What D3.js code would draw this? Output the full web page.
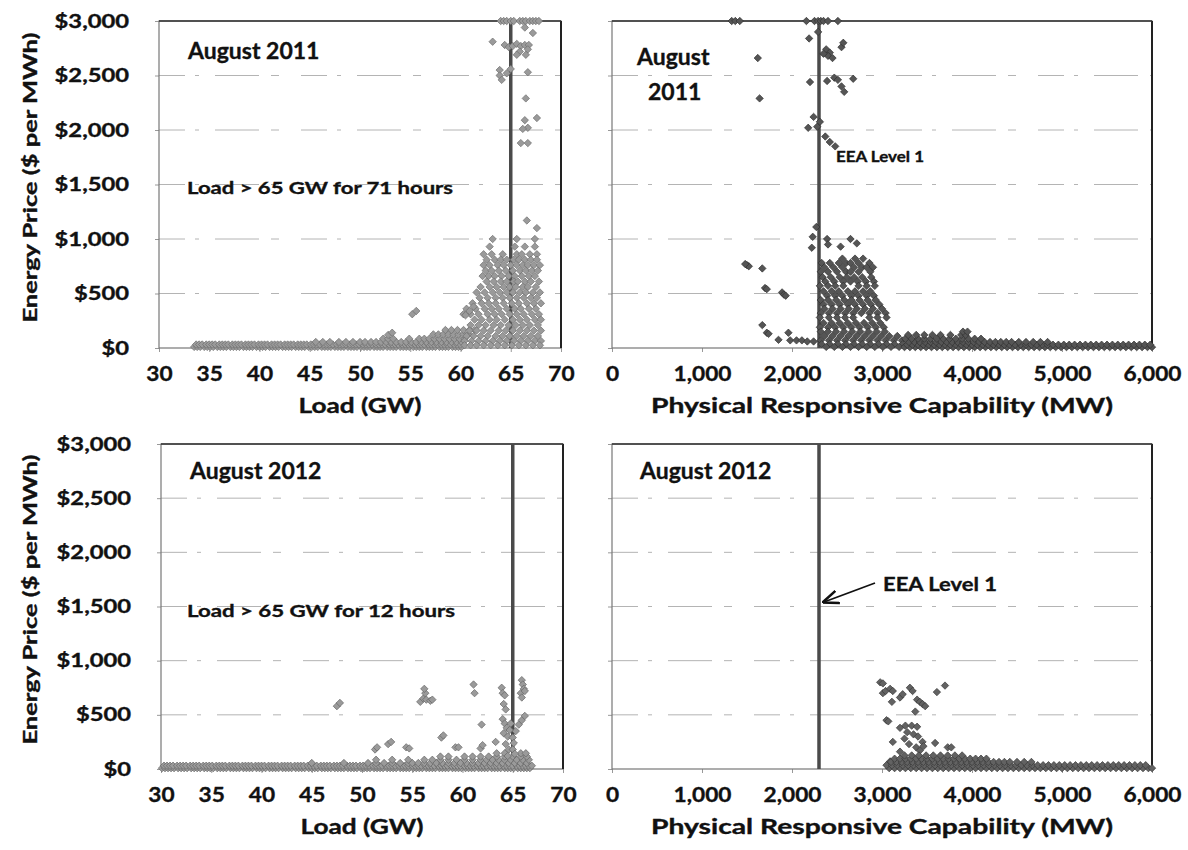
<!DOCTYPE html>
<html><head><meta charset="utf-8">
<script src="https://cdn.jsdelivr.net/npm/d3@7"></script>
<style>
body{margin:0;background:#fff;}
svg text{font-family:Lato,"Open Sans",sans-serif;font-weight:700;fill:#111;stroke:#111;stroke-width:0.35px;}
</style></head><body>
<svg id="chart" width="1188" height="850"></svg>
<script>
// ---- Axis ticks ----
const priceTicks = [0, 500, 1000, 1500, 2000, 2500, 3000];
const loadTicks = [30, 35, 40, 45, 50, 55, 60, 65, 70];
const prcTicks = [0, 1000, 2000, 3000, 4000, 5000, 6000];
const loadThreshold = 65;      // GW
const eeaLevel1 = 2300;        // MW

// ---- August 2011: hourly load (GW) vs energy price ($/MWh) ----
// dense bands are stored as rows: [price, [load, load, ...]]
const aug2011LoadBandRows = [
 [10,[33.5,33.8,34.1,34.5,34.8,35.1,35.4,35.8,36.1,36.4,36.7,37.1,37.4,37.7,38.0,38.4,38.7,39.0,39.3,39.7,40.0,40.3,40.6,41.0,41.3,41.6,41.9,42.3,42.6,42.9,43.2,43.6,43.9,44.2,44.5,44.9,45.2,45.5,45.8,46.2,46.5,46.8,47.1,47.5,47.8,48.1,48.4,48.8,49.1,49.4,49.7,50.1,50.4,50.7,51.0,51.4,51.7,52.0,52.3,52.7,53.0,53.3,53.6,54.0,54.3,54.6,54.9,55.3,55.6,55.9,56.2,56.6,56.9,57.2,57.5,57.9,58.2,58.5,58.8,59.2,59.5,59.8,60.1]],
 [32,[33.7,34.0,34.3,34.7,35.0,35.3,35.6,36.0,36.3,36.6,36.9,37.3,37.6,37.9,38.2,38.6,38.9,39.2,39.5,39.9,40.2,40.5,40.8,41.2,41.5,41.8,42.1,42.5,42.8,43.1,43.4,43.8,44.1,44.4,44.7,45.1,45.4,45.7,46.0,46.4,46.7,47.0,47.3,47.7,48.0,48.3,48.6,49.0,49.3,49.6,49.9,50.3,50.6,50.9,51.2,51.6,51.9,52.2,52.5,52.9,53.2,53.5,53.8,54.2,54.5,54.8,55.1,55.5,55.8,56.1,56.4,56.8,57.1,57.4,57.7,58.1,58.4,58.7,59.0,59.4,59.7,60.0]],
 [55,[45.6,46.3,47.0,47.9,48.6,49.3,50.0,50.5,51.1,51.6,52.1,52.6,53.1,53.6,54.1,54.6,55.1,55.6,56.1,56.6,57.1,57.6,58.1,58.6,59.1,59.6,60.1]],
 [85,[52.3,52.8,53.3,54.9,55.9,56.4,56.9,57.4,57.9,58.4,58.9,59.4,59.9,60.4]],
 [125,[57.3,57.8,58.3,58.8,59.3,59.8,60.3,60.8]],
 [165,[58.5,59.1,59.7,60.3,60.9,61.4]]
];
const aug2011LoadCloudRows = [
 [1000,[63.2,65.6,67.4]],
 [930,[62.9,65.4,66.4,67.4]],
 [860,[62.3,63.1,64.2,65.6,66.1,66.9,67.6]],
 [810,[62.6,63.4,64.0,64.6,65.3,65.8,66.4,67.0,67.6]],
 [760,[62.3,62.9,63.7,64.3,65.0,65.6,66.2,66.7,67.3,67.9]],
 [710,[62.5,63.1,63.8,64.5,65.2,65.9,66.5,67.1,67.7]],
 [660,[62.2,62.8,63.4,64.1,64.8,65.4,66.1,66.8,67.4]],
 [610,[62.6,63.3,64.0,64.6,65.3,65.7,66.4,67.0,67.8]],
 [560,[62.0,62.9,63.6,64.3,64.9,65.5,66.2,66.7,67.5]],
 [510,[61.6,62.4,63.2,63.9,64.6,65.2,65.9,66.5,67.2,67.9]],
 [460,[61.9,62.7,63.5,64.2,64.9,65.6,66.3,67.0,67.6]],
 [410,[61.2,62.1,62.8,63.5,64.3,65.1,65.8,66.6,67.3,68.0]],
 [360,[60.6,61.5,62.4,63.1,63.8,64.6,65.4,66.0,66.8,67.5]],
 [310,[60.3,61.0,61.8,62.7,63.4,64.1,64.9,65.6,66.3,67.1,67.8]],
 [260,[61.4,62.1,62.9,63.6,64.4,65.2,65.9,66.6,67.4,68.0]],
 [210,[61.0,61.8,62.5,63.3,64.0,64.8,65.5,66.2,66.9,67.7]],
 [160,[60.9,61.6,62.3,63.0,63.8,64.5,65.2,65.9,66.6,67.3,68.0]],
 [110,[60.6,61.3,62.0,62.7,63.5,64.2,64.9,65.6,66.3,67.0,67.7]],
 [65,[60.4,61.1,61.8,62.5,63.2,63.9,64.6,65.3,66.0,66.7,67.4,68.0]],
 [25,[60.4,61.0,61.6,62.3,63.0,63.7,64.4,65.1,65.8,66.5,67.2,67.9]]
];
const aug2011LoadScatter = [
 [52.8,120],[53.2,140],[55.2,310],[55.6,340],[60.5,300],[60.9,340],[61.3,380],
 [64.0,3000],[64.3,3000],[64.6,3000],[65.0,3000],[65.3,3000],[65.9,3000],[66.2,3000],[66.5,3000],[66.9,3000],[67.2,3000],[67.5,3000],[67.8,3000],
 [66.4,2940],[67.2,2890],[63.2,2810],
 [64.4,2780],[64.8,2760],[65.2,2770],[65.6,2790],[66.0,2770],[66.4,2780],[66.8,2780],[66.7,2740],[65.9,2720],[65.6,2690],[66.5,2690],
 [63.9,2550],[63.9,2500],[64.1,2460],[64.6,2520],[65.0,2560],[66.7,2530],
 [66.5,2290],[66.4,2090],[67.6,2110],[66.7,2020],[66.2,2010],[66.0,1880],[66.7,1880],
 [66.6,1170],[67.6,1100]
];

// ---- August 2011: physical responsive capability (MW) vs energy price ----
const aug2011PrcScatter = [
 [1330,3000],[1370,3000],[1420,3000],[2160,3000],[2250,3000],[2290,3000],[2320,3000],[2350,3000],[2400,3000],[2510,3000],
 [2290,2900],[2190,2840],[2380,2740],[2420,2710],[2400,2680],[2450,2660],[2350,2700],[2550,2760],[2570,2800],
 [1620,2660],[1640,2290],
 [2200,2440],[2390,2450],[2470,2480],[2550,2400],[2580,2350],[2510,2460],[2680,2470],
 [2240,2120],[2310,2075],[2370,1940],[2420,1890],[2480,1850],[2180,2020],[2280,2030],
 [2270,1110],[2230,1020],[2220,920],[2390,1000],[2400,950],[2650,1000],[2720,960],[2540,930],
 [1500,760],[1520,750],[1480,770],[1670,730],[1700,550],[1720,540],[1890,510],[1910,490],[1930,480],
 [1670,210],[1720,140],[1740,130],[1850,75],[1960,140],[1980,70],[2050,70],[2110,70],[2170,60],[2240,60]
];
const aug2011PrcCloudRows = [
 [820,[2560,2700,2790]],
 [780,[2330,2420,2520,2600,2650,2740,2860]],
 [740,[2360,2460,2560,2690,2780,2830,2900]],
 [700,[2320,2400,2500,2600,2650,2740,2870]],
 [650,[2340,2430,2530,2610,2690,2780,2880]],
 [610,[2370,2470,2570,2650,2730,2820,2910]],
 [570,[2310,2400,2480,2570,2740,2830,2920]],
 [520,[2350,2440,2520,2620,2700,2790,2870]],
 [480,[2390,2480,2560,2660,2740,2830,2910]],
 [440,[2320,2400,2490,2580,2660,2750,2840,2930]],
 [400,[2350,2440,2530,2620,2700,2790,2880,2970]],
 [360,[2360,2450,2540,2630,2720,2810,2900,3000]],
 [320,[2320,2410,2500,2590,2680,2770,2860,2950,3040]],
 [280,[2310,2410,2500,2590,2680,2860,2950,3050]],
 [230,[2350,2440,2530,2620,2710,2800,2890,2980]],
 [190,[2310,2400,2480,2570,2660,2750,2840,2930,3020]],
 [150,[2320,2400,2490,2580,2670,2760,2850,2940,3030]],
 [110,[2360,2450,2540,2630,2720,2810,2900,2990,3080,3170]],
 [70,[2320,2410,2500,2590,2680,2770,2860,2950,3040,3130,3220]],
 [35,[2330,2420,2510,2600,2690,2780,2870,2960,3050,3140,3230]],
 [10,[2380,2470,2560,2650,2740,2830,2920,3010,3100,3190]]
];
const aug2011PrcTailRows = [
 [8,[3250,3310,3370,3430,3490,3550,3610,3670,3730,3790,3850,3910,3970,4030,4090,4150,4210,4270,4330,4390,4450,4510,4570,4630,4690,4750,4810,4870,4930,4990,5050,5110,5170,5230,5290,5350,5410,5470,5530,5590,5650,5710,5770,5830,5890,5950,6000]],
 [30,[3280,3340,3400,3460,3520,3580,3640,3700,3760,3820,3880,3940,4000,4060,4120,4180,4240,4300,4360,4420,4480,4540,4600,4660,4720,4780,4840,4900,4960,5020,5080,5140,5200,5260,5320,5380,5440,5500,5560,5620,5680,5740,5800,5860,5920,5980]],
 [55,[3300,3360,3420,3480,3540,3600,3660,3720,3780,3840,3900,3960,4020,4080,4140,4200,4260,4320,4380,4440,4520,4600,4680,4760,4840]],
 [85,[3260,3330,3400,3470,3540,3610,3680,3750,3820,3890,3960,4030,4100]],
 [120,[3290,3380,3470,3560,3650,3760,3880,3930]],
 [150,[3900,3950]]
];

// ---- August 2012: hourly load (GW) vs energy price ----
const aug2012LoadBandRows = [
 [8,[30.1,30.4,30.7,31.0,31.3,31.7,32.0,32.3,32.6,33.0,33.3,33.6,33.9,34.3,34.6,34.9,35.2,35.6,35.9,36.2,36.5,36.9,37.2,37.5,37.8,38.2,38.5,38.8,39.1,39.5,39.8,40.1,40.4,40.8,41.1,41.4,41.7,42.1,42.4,42.7,43.0,43.4,43.7,44.0,44.3,44.7,45.0,45.3,45.6,46.0,46.3,46.6,46.9,47.3,47.6,47.9,48.2,48.6,48.9,49.2,49.5,49.9,50.2,50.5,50.8,51.2,51.5,51.8,52.1,52.5,52.8,53.1,53.4,53.8,54.1,54.4,54.7,55.1,55.4,55.7,56.0,56.4,56.7,57.0,57.3,57.7,58.0,58.3,58.6,59.0,59.3,59.6,59.9,60.3,60.6,60.9,61.2,61.6,61.9,62.2,62.5,62.9,63.2,63.5,63.8,64.2,64.5,64.8,65.1,65.5,65.8,66.1,66.4,66.7]],
 [30,[30.3,30.6,30.9,31.2,31.6,31.9,32.2,32.5,32.9,33.2,33.5,33.8,34.2,34.5,34.8,35.1,35.5,35.8,36.1,36.4,36.8,37.1,37.4,37.7,38.1,38.4,38.7,39.0,39.4,39.7,40.0,40.3,40.7,41.0,41.3,41.6,42.0,42.3,42.6,42.9,43.3,43.6,43.9,44.2,44.6,44.9,45.2,45.5,45.9,46.2,46.5,46.8,47.2,47.5,47.8,48.1,48.5,48.8,49.1,49.4,49.8,50.1,50.4,50.7,51.1,51.4,51.7,52.0,52.4,52.7,53.0,53.3,53.7,54.0,54.3,54.6,55.0,55.3,55.6,55.9,56.3,56.6,56.9,57.2,57.6,57.9,58.2,58.5,58.9,59.2,59.5,59.8,60.2,60.5,60.8,61.1,61.5,61.8,62.1,62.4,62.8,63.1,63.4,63.7,64.1,64.4,64.7,65.0,65.4,65.7,66.0,66.3,66.6,66.9]],
 [55,[45.0,48.2,50.6,51.4,52.2,53.0,53.8,54.6,55.0,55.6,56.2,56.8,57.4,58.0,58.6,59.2,59.8,60.4,61.0,61.6,62.2,62.8,63.4,64.0,64.6,65.2,65.8,66.4]],
 [85,[51.4,53.0,54.6,56.2,57.0,57.8,58.6,59.4,60.2,61.0,61.8,62.4,63.0,63.6,64.2,64.8,65.4,66.0,66.6]],
 [115,[57.8,58.6,60.2,61.0,61.8,62.6,63.4,64.2,65.0,65.8,66.4]],
 [145,[63.4,64.2,65.8,66.3]]
];
const aug2012LoadScatter = [
 [47.5,580],[47.8,610],[51.3,180],[51.5,200],[52.6,230],[52.9,250],[54.4,200],[54.7,190],
 [55.8,620],[56.1,650],[56.4,640],[56.8,630],[57.0,640],[56.3,700],[56.2,740],
 [57.9,290],[58.1,310],[59.3,200],[59.6,200],[61.1,780],[61.2,700],[61.9,410],[61.8,190],[62.0,220],[63.3,250],
 [63.9,750],[64.0,700],[64.2,680],[64.1,600],[64.3,550],[64.0,460],[64.2,420],[64.4,380],[64.1,330],[64.5,300],[64.3,230],[64.6,180],[64.5,120],
 [65.0,290],[65.1,240],[65.0,180],[65.2,140],
 [65.9,820],[66.0,780],[66.1,740],[65.8,700],[65.9,660],[66.2,720],
 [65.3,350],[65.6,410],[65.9,450],[66.2,490],[64.8,420],[64.7,360]
];

// ---- August 2012: physical responsive capability (MW) vs energy price ----
const aug2012PrcScatter = [
 [2980,800],[3010,790],[3010,700],[3040,720],[3090,740],[3120,720],[3110,620],[3200,660],[3230,690],[3310,750],[3340,720],
 [3390,640],[3420,620],[3450,600],[3480,580],[3370,530],[3610,710],[3700,770],[3050,450],[3070,440],
 [3200,380],[3260,400],[3330,400],[3390,390],[3280,340],[3350,320],[3400,300],[3120,250],[3200,160],
 [3250,280],[3300,230],[3380,200],[3450,250],[3460,210],[3420,170],[3590,240],[3730,200],[3770,200],[3090,70]
];
const aug2012PrcTailRows = [
 [8,[3080,3140,3200,3260,3320,3380,3440,3500,3560,3620,3680,3740,3800,3860,3920,3980,4040,4100,4160,4220,4280,4340,4400,4460,4520,4580,4640,4700,4760,4820,4880,4940,5000,5060,5120,5180,5240,5300,5360,5420,5480,5540,5600,5660,5720,5780,5840,5900,5960,6000]],
 [35,[3050,3110,3170,3230,3290,3350,3410,3470,3530,3590,3650,3710,3770,3830,3890,3950,4010,4070,4130,4190,4250,4310,4370,4430,4490,4550,4610,4670,4730,4790,4850,4910,4970,5030,5090,5150,5210,5270,5330,5390,5450,5510,5570,5630,5690,5750,5810,5870,5930]],
 [65,[3100,3160,3220,3280,3340,3400,3460,3520,3580,3640,3700,3760,3820,3880,3940,4000,4060,4120,4180,4240,4300,4360,4420,4500,4580,4660]],
 [95,[3140,3200,3260,3320,3380,3440,3500,3560,3620,3680,3740,3800,3860,3920,3980,4040,4100,4160]],
 [125,[3250,3330,3410,3490,3570,3650,3730,3810,3890]]
];

// flatten row-form bands ([price, [x...]]) into [x, price] pairs
const rowsToPoints = rows => rows.flatMap(([p, xs]) => xs.map(x => [x, p]));

const panels = [
  {x0: 159, x1: 561, y0: 21, y1: 348, xDomain: [30, 70], xTicks: loadTicks, xFmt: d3.format("d"),
   showY: true, xTitle: "Load (GW)", refX: loadThreshold,
   points: [...rowsToPoints(aug2011LoadBandRows), ...rowsToPoints(aug2011LoadCloudRows), ...aug2011LoadScatter],
   fill: "#9a9a9a", stroke: "#6e6e6e"},
  {x0: 612, x1: 1152, y0: 21, y1: 348, xDomain: [0, 6000], xTicks: prcTicks, xFmt: d3.format(","),
   showY: false, xTitle: "Physical Responsive Capability (MW)", refX: eeaLevel1,
   points: [...aug2011PrcScatter, ...rowsToPoints(aug2011PrcCloudRows), ...rowsToPoints(aug2011PrcTailRows)],
   fill: "#555", stroke: "#303030"},
  {x0: 161, x1: 563, y0: 444, y1: 769, xDomain: [30, 70], xTicks: loadTicks, xFmt: d3.format("d"),
   showY: true, xTitle: "Load (GW)", refX: loadThreshold,
   points: [...rowsToPoints(aug2012LoadBandRows), ...aug2012LoadScatter],
   fill: "#9a9a9a", stroke: "#666"},
  {x0: 612, x1: 1152, y0: 444, y1: 769, xDomain: [0, 6000], xTicks: prcTicks, xFmt: d3.format(","),
   showY: false, xTitle: "Physical Responsive Capability (MW)", refX: eeaLevel1,
   points: [...aug2012PrcScatter, ...rowsToPoints(aug2012PrcTailRows)],
   fill: "#626262", stroke: "#383838"}
];

const svg = d3.select("#chart");
// widen lettering horizontally by a factor, or to a fixed width in px
function stretch(sel, factor = 1.25) {
  sel.each(function () {
    const w = this.getComputedTextLength();
    d3.select(this).attr("textLength", w * factor).attr("lengthAdjust", "spacingAndGlyphs");
  });
  return sel;
}
function fitTo(sel, width) {
  return sel.attr("textLength", width).attr("lengthAdjust", "spacingAndGlyphs");
}
const diamond = r => `M0,${-r}L${r},0L0,${r}L${-r},0Z`;
const priceFmt = d => "$" + d3.format(",")(d);

panels.forEach(p => {
  const x = d3.scaleLinear().domain(p.xDomain).range([p.x0, p.x1]);
  const y = d3.scaleLinear().domain([0, 3000]).range([p.y1, p.y0]);
  const g = svg.append("g");

  // broken, faint horizontal gridlines
  g.append("g").selectAll("line").data(priceTicks.slice(1, -1)).join("line")
    .attr("x1", p.x0).attr("x2", p.x1).attr("y1", y).attr("y2", y)
    .attr("stroke", "#b4b4b4").attr("stroke-width", 1)
    .attr("stroke-dasharray", "26,10,4,16,44,12,8,22");

  // x axis
  const xa = g.append("g").attr("transform", `translate(0,${p.y1})`)
    .call(d3.axisBottom(x).tickValues(p.xTicks).tickFormat(p.xFmt).tickSize(4).tickPadding(14));
  xa.select(".domain").remove();
  xa.selectAll("line").attr("stroke", "#999");
  xa.selectAll("text").attr("font-size", 21).attr("fill", "#111").style("font-family", null).call(stretch, 1.08);

  // y axis (labels on left-hand panels only)
  const ya = g.append("g").attr("transform", `translate(${p.x0},0)`)
    .call(d3.axisLeft(y).tickValues(priceTicks).tickFormat(p.showY ? priceFmt : "").tickSize(4).tickPadding(26));
  ya.select(".domain").remove();
  ya.selectAll("line").attr("stroke", "#999");
  ya.selectAll("text").attr("font-size", 19).attr("fill", "#111").style("font-family", null).call(stretch, 1.25);

  // plot frame
  g.append("rect").attr("x", p.x0).attr("y", p.y0).attr("width", p.x1 - p.x0).attr("height", p.y1 - p.y0)
    .attr("fill", "none").attr("stroke", "#777").attr("stroke-width", 1.2);
  g.append("line").attr("x1", p.x1).attr("x2", p.x1).attr("y1", p.y0).attr("y2", p.y1)
    .attr("stroke", "#222").attr("stroke-width", 2);
  g.append("line").attr("x1", p.x0).attr("x2", p.x1).attr("y1", p.y0).attr("y2", p.y0)
    .attr("stroke", "#333").attr("stroke-width", 1.6);

  // threshold line
  g.append("line").attr("x1", x(p.refX)).attr("x2", x(p.refX)).attr("y1", p.y0).attr("y2", p.y1)
    .attr("stroke", "#4a4a4a").attr("stroke-width", 3.5);

  // hourly observations
  g.append("g").selectAll("path").data(p.points).join("path")
    .attr("d", diamond(3.7))
    .attr("transform", d => `translate(${x(d[0])},${y(d[1])})`)
    .attr("fill", p.fill).attr("stroke", p.stroke).attr("stroke-width", 0.7);

  // x title
  g.append("text").attr("x", (p.x0 + p.x1) / 2).attr("y", p.y1 + 65)
    .attr("text-anchor", "middle").attr("font-size", 20).text(p.xTitle)
    .call(fitTo, p.showY ? 123 : 462);

  if (p.showY) {
    g.append("text").attr("transform", `translate(37,${(p.y0 + p.y1) / 2 - 7}) rotate(-90)`)
      .attr("text-anchor", "middle").attr("font-size", 19).text("Energy Price ($ per MWh)")
      .call(fitTo, 290);
  }
});

// annotations
const notes = [
  {x: 188, y: 59, s: 23, t: "August 2011"},
  {x: 187, y: 194, s: 17, t: "Load > 65 GW for 71 hours", w: 266},
  {x: 637, y: 65, s: 23, t: "August"},
  {x: 648, y: 100, s: 23, t: "2011"},
  {x: 836, y: 162, s: 15, t: "EEA Level 1", w: 88},
  {x: 190, y: 479, s: 23, t: "August 2012"},
  {x: 187, y: 617, s: 17, t: "Load > 65 GW for 12 hours", w: 268},
  {x: 640, y: 479, s: 23, t: "August 2012"},
  {x: 883, y: 591, s: 18, t: "EEA Level 1", w: 114}
];
svg.append("g").selectAll("text").data(notes).join("text")
  .attr("x", d => d.x).attr("y", d => d.y).attr("font-size", d => d.s).text(d => d.t)
  .each(function (d) { if (d.w) fitTo(d3.select(this), d.w); });

// arrow pointing at the EEA Level 1 line (2012)
svg.append("defs").append("marker").attr("id", "head").attr("viewBox", "0 0 10 10")
  .attr("refX", 9).attr("refY", 5).attr("markerWidth", 9).attr("markerHeight", 9).attr("orient", "auto")
  .append("path").attr("d", "M0,1L10,5L0,9").attr("fill", "none").attr("stroke", "#111").attr("stroke-width", 1.6);
svg.append("line").attr("x1", 875).attr("y1", 583).attr("x2", 824).attr("y2", 602)
  .attr("stroke", "#111").attr("stroke-width", 1.8).attr("marker-end", "url(#head)");
</script>
</body></html>
